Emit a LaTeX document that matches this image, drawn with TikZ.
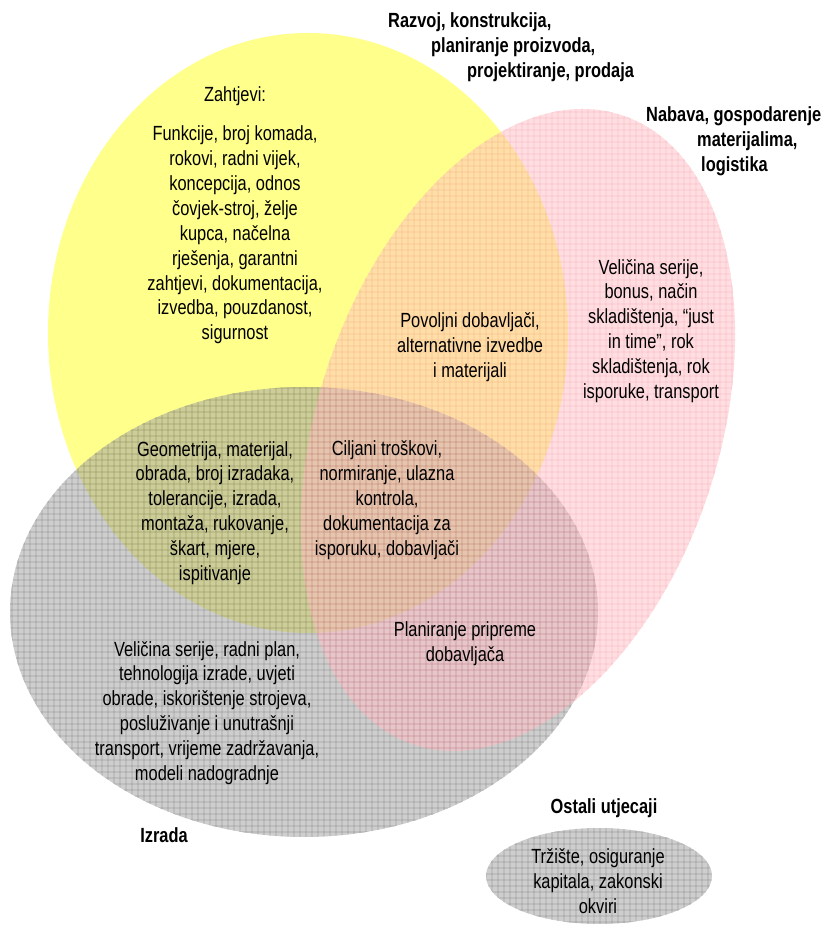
\documentclass[tikz,border=0pt]{standalone}
\usepackage{fontspec}
\setmainfont{Liberation Sans}[FakeStretch=0.8]
\definecolor{razvojfill}{RGB}{255,255,140}
\definecolor{nabavafill}{RGB}{255,190,195}
\definecolor{nabavagrid}{RGB}{240,135,150}
\definecolor{izradafill}{RGB}{165,165,165}
\definecolor{izradagrid}{RGB}{85,85,85}
\begin{document}
\begin{tikzpicture}[x=1pt, y=1pt,
    txt/.style={align=center, inner sep=0pt, font=\fontsize{20.5}{24.9}\selectfont},
    head/.style={align=left, inner sep=0pt, font=\fontsize{20.5}{25}\selectfont\bfseries},
    gridlines/.style={step=6, line width=0.6pt}]
\useasboundingbox (0,0) rectangle (823,928);
% Razvoj
\fill[razvojfill] (308,595) ellipse [x radius=260, y radius=300];
% Izrada
\begin{scope}[transparency group, opacity=0.55]
    \fill[izradafill] (304,316) ellipse [x radius=294, y radius=225];
    \clip (304,316) ellipse [x radius=294, y radius=225];
    \draw[izradagrid, gridlines] (0,80) grid (610,550);
\end{scope}
% Nabava
\begin{scope}[transparency group, opacity=0.5]
    \fill[nabavafill, rotate around={71.7:(518,498)}] (518,498) ellipse [x radius=331.5, y radius=200.6];
    \clip[rotate around={71.7:(518,498)}] (518,498) ellipse [x radius=331.5, y radius=200.6];
    \draw[nabavagrid, gridlines] (270,150) grid (760,840);
\end{scope}
% Ostali utjecaji
\begin{scope}[transparency group, opacity=0.55]
    \fill[izradafill] (599,52) ellipse [x radius=113, y radius=48];
    \clip (599,52) ellipse [x radius=113, y radius=48];
    \draw[izradagrid, gridlines] (480,0) grid (720,110);
\end{scope}

\node[head, anchor=west] (razvoj) at (388,881) {Razvoj, konstrukcija,\\\hspace*{43pt}planiranje proizvoda,\\\hspace*{79pt}projektiranje, prodaja};
\node[head, anchor=west] (nabava) at (646,787) {Nabava, gospodarenje\\\hspace*{51pt}materijalima,\\\hspace*{55pt}logistika};
\node[head] (izrada) at (164,93) {Izrada};
\node[head] (ostali) at (604,120) {Ostali utjecaji};

\node[txt] (zahtjevi) at (235,832) {Zahtjevi:};
\node[txt] (funkcije) at (235,693) {Funkcije, broj komada,\\rokovi, radni vijek,\\koncepcija, odnos\\čovjek-stroj, želje\\kupca, načelna\\rješenja, garantni\\zahtjevi, dokumentacija,\\izvedba, pouzdanost,\\sigurnost};
\node[txt] (povoljni) at (470,581) {Povoljni dobavljači,\\alternativne izvedbe\\i materijali};
\node[txt] (serija) at (651,597) {Veličina serije,\\bonus, način\\skladištenja, “just\\in time”, rok\\skladištenja, rok\\isporuke, transport};
\node[txt] (geometrija) at (215,415) {Geometrija, materijal,\\obrada, broj izradaka,\\tolerancije, izrada,\\montaža, rukovanje,\\škart, mjere,\\ispitivanje};
\node[txt] (ciljani) at (387,428) {Ciljani troškovi,\\normiranje, ulazna\\kontrola,\\dokumentacija za\\isporuku, dobavljači};
\node[txt] (planiranje) at (465,284) {Planiranje pripreme\\dobavljača};
\node[txt] (plan) at (207,215) {Veličina serije, radni plan,\\tehnologija izrade, uvjeti\\obrade, iskorištenje strojeva,\\posluživanje i unutrašnji\\transport, vrijeme zadržavanja,\\modeli nadogradnje};
\node[txt] (trziste) at (598,47) {Tržište, osiguranje\\kapitala, zakonski\\okviri};
\end{tikzpicture}
\end{document}
